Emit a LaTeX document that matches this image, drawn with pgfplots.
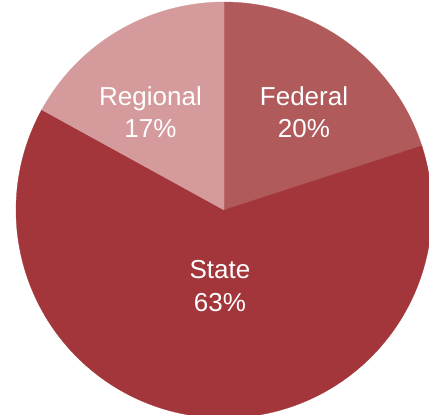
\documentclass[border=0pt]{standalone}
\usepackage{pgfplots}
\usepackage{pgfplotstable}
\pgfplotsset{compat=1.18}
\usepackage{fontspec}
\setmainfont{Liberation Sans}
\definecolor{cFed}{HTML}{B05A5C}
\definecolor{cReg}{HTML}{D49A9C}
\definecolor{cState}{HTML}{A2363A}
\pgfplotstableread{
name percent
Federal 20
State 63
Regional 17
}\piedata
\begin{document}
\begin{tikzpicture}
\pgfplotstablegetelem{0}{percent}\of\piedata \let\pF\pgfplotsretval
\pgfplotstablegetelem{1}{percent}\of\piedata \let\pS\pgfplotsretval
\pgfplotstablegetelem{2}{percent}\of\piedata \let\pR\pgfplotsretval
\pgfmathsetmacro{\aA}{90}
\pgfmathsetmacro{\aB}{90-3.6*\pF}
\pgfmathsetmacro{\aC}{\aB-3.6*\pS}
\pgfmathsetmacro{\aD}{\aC-3.6*\pR}
\begin{axis}[
  width=429pt, height=415pt, scale only axis,
  xmin=-224, xmax=205, ymin=-205, ymax=210,
  hide axis, clip=true,
]
\coordinate (ll) at (rel axis cs:0,0);
\coordinate (ur) at (rel axis cs:1,1);
\addplot[fill=cFed, draw=cFed, line width=0.3pt, domain=\aB:\aA, samples=60, variable=\t]
  ({208*cos(\t)},{208*sin(\t)}) -- (axis cs:0,0) -- cycle;
\addplot[fill=cState, draw=cState, line width=0.3pt, domain=\aC:\aB, samples=150, variable=\t]
  ({208*cos(\t)},{208*sin(\t)}) -- (axis cs:0,0) -- cycle;
\addplot[fill=cReg, draw=cReg, line width=0.3pt, domain=\aD:\aC, samples=60, variable=\t]
  ({208*cos(\t)},{208*sin(\t)}) -- (axis cs:0,0) -- cycle;
\node[anchor=base, text=white, font=\fontsize{26}{30}\selectfont] at (axis cs:-73.5,104) {Regional};
\node[anchor=base, text=white, font=\fontsize{26}{30}\selectfont] at (axis cs:-73.5,72) {\pR\%};
\node[anchor=base, text=white, font=\fontsize{26}{30}\selectfont] at (axis cs:80,104) {Federal};
\node[anchor=base, text=white, font=\fontsize{26}{30}\selectfont] at (axis cs:80,72) {\pF\%};
\node[anchor=base, text=white, font=\fontsize{26}{30}\selectfont] at (axis cs:-4,-69) {State};
\node[anchor=base, text=white, font=\fontsize{26}{30}\selectfont] at (axis cs:-4,-102) {\pS\%};
\end{axis}
\pgfresetboundingbox
\useasboundingbox (ll) rectangle (ur);
\end{tikzpicture}
\end{document}
